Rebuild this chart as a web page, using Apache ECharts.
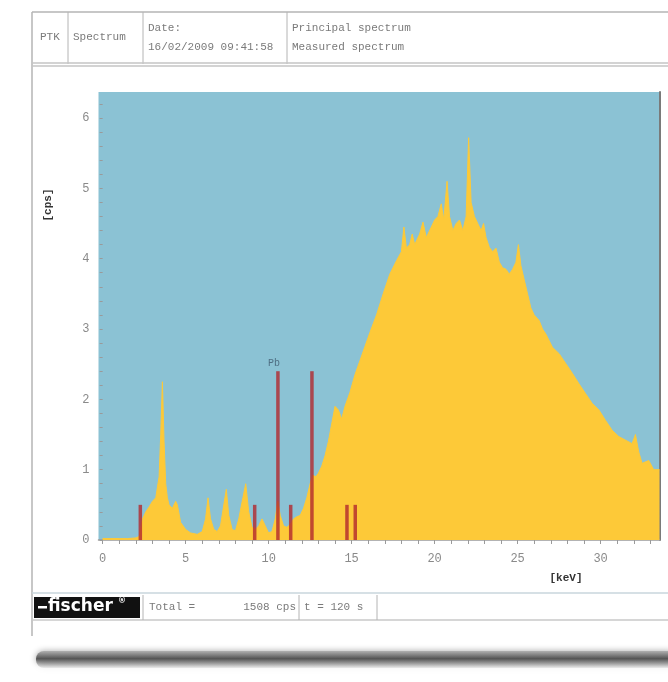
<!DOCTYPE html>
<html>
<head>
<meta charset="utf-8">
<script src="https://cdn.jsdelivr.net/npm/echarts@6/dist/echarts.min.js"></script>
<style>
html,body{margin:0;padding:0;background:#fff;}
#chart{width:668px;height:682px;}
</style>
</head>
<body>
<div id="chart"></div>
<script>
// ---- data ----
const energies = [0.0,0.5,1.0,1.5,2.0,2.2,2.4,2.6,2.8,3.0,3.2,3.4,3.5,3.6,3.7,3.8,3.9,4.0,4.2,4.4,4.5,4.7,5.0,5.3,5.7,6.0,6.2,6.35,6.5,6.7,6.9,7.1,7.3,7.45,7.6,7.8,8.0,8.2,8.45,8.62,8.8,9.0,9.2,9.4,9.6,9.8,10.0,10.2,10.4,10.55,10.7,10.9,11.1,11.3,11.5,11.7,11.9,12.1,12.3,12.5,12.65,12.85,13.0,13.2,13.4,13.6,13.8,14.0,14.2,14.4,14.6,14.9,15.2,15.5,15.8,16.1,16.5,16.9,17.3,17.7,18.0,18.15,18.3,18.5,18.65,18.8,19.1,19.3,19.5,19.8,20.0,20.2,20.4,20.55,20.75,20.9,21.1,21.3,21.5,21.7,21.9,22.05,22.2,22.4,22.6,22.8,22.95,23.1,23.3,23.5,23.7,23.9,24.1,24.3,24.5,24.7,24.9,25.05,25.2,25.4,25.6,25.8,26.0,26.3,26.5,26.7,27.1,27.5,27.9,28.3,28.7,29.1,29.5,29.9,30.3,30.7,31.1,31.5,31.9,32.1,32.3,32.5,32.9,33.2,33.55];
const counts   = [0.02,0.02,0.02,0.02,0.03,0.05,0.3,0.4,0.47,0.55,0.6,0.9,1.5,2.25,1.4,0.8,0.6,0.5,0.45,0.55,0.5,0.25,0.15,0.1,0.08,0.12,0.3,0.6,0.3,0.15,0.12,0.2,0.5,0.72,0.35,0.15,0.13,0.3,0.6,0.8,0.4,0.18,0.15,0.2,0.3,0.2,0.1,0.12,0.3,0.55,0.35,0.2,0.18,0.22,0.3,0.33,0.35,0.45,0.6,0.8,0.92,0.9,0.95,1.05,1.2,1.4,1.65,1.9,1.85,1.72,1.9,2.1,2.35,2.55,2.75,2.95,3.2,3.5,3.78,3.97,4.1,4.45,4.15,4.2,4.35,4.2,4.35,4.52,4.3,4.45,4.55,4.6,4.78,4.55,5.1,4.6,4.4,4.5,4.55,4.4,4.6,5.72,4.8,4.6,4.5,4.4,4.5,4.3,4.16,4.1,4.15,3.95,3.87,3.85,3.78,3.85,3.95,4.2,3.9,3.7,3.5,3.3,3.2,3.12,3.0,2.93,2.74,2.65,2.51,2.37,2.22,2.08,1.94,1.85,1.7,1.56,1.47,1.42,1.37,1.5,1.25,1.09,1.13,1.0,1.0];
const lineEnergies = [2.27,9.16,10.56,11.33,12.61,14.72,15.22];
const lineHeights  = [0.5,0.5,2.4,0.5,2.4,0.5,0.5];
const lineLabels   = ['','','Pb','','','',''];
const xTickLabels = [0,5,10,15,20,25,30];
const xMinorTicks = [0,1,2,3,4,5,6,7,8,9,10,11,12,13,14,15,16,17,18,19,20,21,22,23,24,25,26,27,28,29,30,31,32,33];
const yTickLabels = [0,1,2,3,4,5,6];
const yMinorTicks = [0,0.2,0.4,0.6,0.8,1,1.2,1.4,1.6,1.8,2,2.2,2.4,2.6,2.8,3,3.2,3.4,3.6,3.8,4,4.2,4.4,4.6,4.8,5,5.2,5.4,5.6,5.8,6,6.2];
const headerCells = ['PTK','Spectrum','Date:','16/02/2009 09:41:58','Principal spectrum','Measured spectrum'];
const footerCells = ['Total =','1508 cps','t = 120 s'];
const xName = '[keV]';
const yName = '[cps]';

const chart = echarts.init(document.getElementById('chart'), null, {renderer:'canvas'});
const mono = 'Liberation Mono';
const gray = '#8a8a8a';
const frame = '#b4b4b4';

function hline(x1,x2,y,color,w){return {type:'line',silent:true,shape:{x1:x1,y1:y,x2:x2,y2:y},style:{stroke:color,lineWidth:w}};}
function vline(x,y1,y2,color,w){return {type:'line',silent:true,shape:{x1:x,y1:y1,x2:x,y2:y2},style:{stroke:color,lineWidth:w}};}
function txt(x,y,t,opts){return {type:'text',silent:true,x:x,y:y,style:Object.assign({text:t,fill:'#7a7a7a',font:'11px '+mono,textVerticalAlign:'middle'},opts||{})};}

const graphics = [
  // panel shadow
  {type:'rect',silent:true,shape:{x:36,y:651,width:640,height:17,r:8},
   style:{fill:new echarts.graphic.LinearGradient(0,0,0,1,[{offset:0,color:'#b0b0b0'},{offset:0.45,color:'#555555'},{offset:1,color:'rgba(150,150,150,0.15)'}]),shadowBlur:6,shadowColor:'rgba(0,0,0,0.35)'}},
  // frame
  hline(32,668,12,frame,1.5),
  vline(32,12,636,frame,1.5),
  vline(68,12,64,frame,1),
  vline(143,12,64,frame,1),
  vline(287,12,64,frame,1),
  hline(32,668,63,'#c4c4c4',1.5),
  hline(32,668,66,'#c4c4c4',1.5),
  // header texts
  txt(40,37,headerCells[0]),
  txt(73,37,headerCells[1]),
  txt(148,28,headerCells[2]),
  txt(148,47,headerCells[3]),
  txt(292,28,headerCells[4]),
  txt(292,47,headerCells[5]),
  // footer
  hline(32,668,593,'#c9d6dc',1.5),
  hline(32,668,620,'#c8c8c8',1.5),
  vline(143,595,620,frame,1),
  vline(299,595,620,frame,1),
  vline(377,595,620,frame,1),
  {type:'rect',silent:true,shape:{x:34,y:597,width:106,height:21},style:{fill:'#111111'}},
  {type:'rect',silent:true,shape:{x:38,y:606,width:9,height:2.5},style:{fill:'#ffffff'}},
  {type:'text',silent:true,x:48,y:607,style:{text:'fischer',fill:'#ffffff',font:'bold 17px "DejaVu Sans"',textVerticalAlign:'middle'}},
  {type:'text',silent:true,x:118,y:601,style:{text:'\u00AE',fill:'#ffffff',font:'bold 8px "DejaVu Sans"',textVerticalAlign:'middle'}},
  txt(149,607,footerCells[0]),
  txt(296,607,footerCells[1],{textAlign:'right'}),
  txt(304,607,footerCells[2]),
  // axis names
  {type:'text',silent:true,x:48,y:205,rotation:Math.PI/2,style:{text:yName,fill:'#333',font:'bold 11px '+mono,textAlign:'center',textVerticalAlign:'middle'}},
  {type:'text',silent:true,x:566,y:578,style:{text:xName,fill:'#333',font:'bold 11px '+mono,textAlign:'center',textVerticalAlign:'middle'}}
];

const option = {
  backgroundColor:'#ffffff',
  animation:false,
  graphic:{elements:graphics},
  grid:{left:98.5,right:8.5,top:92,bottom:142,show:true,backgroundColor:'#8bc2d4',borderWidth:0,containLabel:false},
  xAxis:{
    type:'value',min:-0.25,max:33.55,
    splitLine:{show:false},
    axisLine:{show:true,onZero:false,lineStyle:{color:'#9a9a9a',width:1.5}},
    axisTick:{show:true,customValues:xMinorTicks,length:4,inside:false,lineStyle:{color:'#9a9a9a'}},
    axisLabel:{customValues:xTickLabels,color:gray,fontFamily:mono,fontSize:12,margin:13,formatter:v=>String(v)}
  },
  yAxis:[{
    type:'value',min:0,max:6.37,
    splitLine:{show:false},
    axisLine:{show:false},
    axisTick:{show:true,customValues:yMinorTicks,length:3,lineStyle:{color:'#9a9a9a'}},
    axisLabel:{customValues:yTickLabels,color:gray,fontFamily:mono,fontSize:12,margin:9,formatter:v=>String(v)}
  },{
    type:'value',min:0,max:6.37,position:'right',
    splitLine:{show:false},
    axisLine:{show:true,lineStyle:{color:'#7a7a7a',width:2}},
    axisTick:{show:false},axisLabel:{show:false}
  }],
  series:[
    {
      type:'line',
      data:energies.map((e,i)=>[e,counts[i]]),
      showSymbol:false,symbol:'none',
      lineStyle:{color:'#fdc938',width:1},
      areaStyle:{color:'#fdc938',opacity:1},
      z:2
    },
    {
      type:'bar',
      barWidth:3.5,
      data:lineEnergies.map((e,i)=>{
        const d={value:[e,lineHeights[i]]};
        if(lineLabels[i]) d.label={show:true,position:'top',formatter:lineLabels[i],color:'#4f6f84',fontSize:10,fontFamily:mono,distance:3,offset:[-4,0]};
        return d;
      }),
      itemStyle:{color:'rgba(178,40,45,0.8)'},
      z:3
    }
  ]
};
chart.setOption(option);
</script>
</body>
</html>
